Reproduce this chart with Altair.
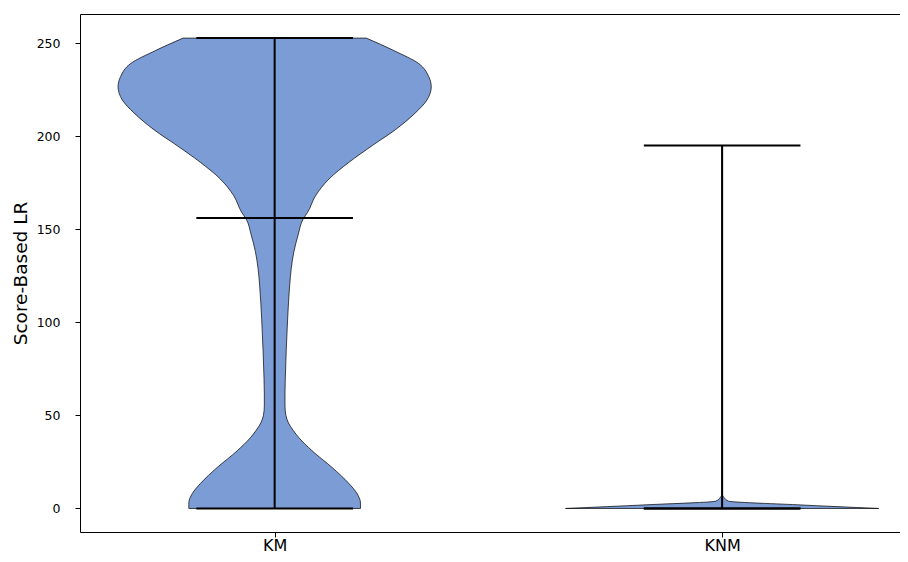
import altair as alt
import pandas as pd

# ---------------- data ----------------
groups = ["KM", "KNM"]
positions = [1, 2]

# KM violin profile: score value and relative density (1 = widest point)
km_values = [0, 3, 8, 13.5, 22, 31, 38, 42, 46, 50, 55, 62, 70, 85, 102, 120, 129,
             138, 147, 155.5, 159, 168, 177, 186, 195, 203.5, 212.5, 219.5, 226.5,
             232, 239, 246, 252.7]
km_density = [0.548, 0.548, 0.526, 0.473, 0.367, 0.239, 0.155, 0.118, 0.088, 0.072,
              0.066, 0.066, 0.068, 0.074, 0.083, 0.096, 0.106, 0.123, 0.150, 0.182,
              0.21, 0.261, 0.347, 0.475, 0.624, 0.771, 0.898, 0.973, 1.0, 0.984,
              0.92, 0.761, 0.585]

# KNM violin profile
knm_values = [0, 1.97, 3.94, 5.91, 7.88, 195]
knm_density = [1.0, 0.48, 0.04, 0.012, 0.0, 0.0]

mins = [0.0, 0.0]
maxs = [252.7, 195.0]
medians = [156.0, 0.0]

# ---------------- styling constants ----------------
HALF_WIDTH = 0.35   # half of violin width (x units)
CAP = 0.175         # half length of the extrema / median lines
FONT = "DejaVu Sans"

rows = []
for g, p, vals, dens in [("KM", 1, km_values, km_density), ("KNM", 2, knm_values, knm_density)]:
    for v, d in zip(vals, dens):
        rows.append({"group": g, "pos": p, "value": v, "dens": d})
violin_df = pd.DataFrame(rows)

stats_df = pd.DataFrame({"group": groups, "pos": positions,
                         "min": mins, "max": maxs, "median": medians})

xscale = alt.Scale(domain=[0.565, 2.3975], nice=False, zero=False)
yscale = alt.Scale(domain=[-12.65, 265.65], nice=False, zero=False)

x_axis = alt.Axis(values=positions, labelExpr="datum.value == 1 ? 'KM' : 'KNM'",
                  title=None, grid=False, labelFontSize=16, labelPadding=0,
                  tickSize=5, orient="bottom")
y_axis = alt.Axis(values=[0, 50, 100, 150, 200, 250], title="Score-Based LR",
                  grid=False, labelFontSize=12.5, labelPadding=15, tickSize=5,
                  titleFontSize=18.5, titleFontWeight="normal", titlePadding=5.5)
top_axis = alt.Axis(orient="top", labels=False, ticks=False, title=None, grid=False,
                    domain=True)

violin = alt.Chart(violin_df).transform_calculate(
    xl=f"datum.pos - datum.dens * {HALF_WIDTH}",
    xr=f"datum.pos + datum.dens * {HALF_WIDTH}",
).mark_area(
    orient="horizontal", interpolate="monotone", fill="#4472C4", fillOpacity=0.7,
    stroke="black", strokeOpacity=0.7, strokeWidth=1,
).encode(
    y=alt.Y("value:Q", scale=yscale, axis=y_axis),
    x=alt.X("xl:Q", scale=xscale, axis=x_axis),
    x2="xr:Q",
    detail="group:N",
)

vline = alt.Chart(stats_df).mark_rule(color="black", strokeWidth=2).encode(
    x=alt.X("pos:Q", scale=xscale, axis=None),
    y=alt.Y("min:Q", scale=yscale),
    y2="max:Q",
)

hlines = alt.Chart(stats_df).transform_fold(
    ["min", "max", "median"], as_=["stat", "v"]
).transform_calculate(
    xl=f"datum.pos - {CAP}", xr=f"datum.pos + {CAP}"
).mark_rule(color="black", strokeWidth=2).encode(
    y=alt.Y("v:Q", scale=yscale),
    x=alt.X("xl:Q", scale=xscale, axis=top_axis),
    x2="xr:Q",
)

chart = alt.layer(violin, vline, hlines).resolve_axis(x="independent").properties(
    width=820, height=518,
    autosize=alt.AutoSizeParams(type="none"),
    padding={"left": 72, "top": 6, "right": 0, "bottom": 22},
).configure_view(stroke=None).configure_axis(
    domainColor="black", domainWidth=1, tickColor="black", tickWidth=1,
    labelColor="black", titleColor="black", labelFont=FONT, titleFont=FONT,
)

chart.save("out.html", embed_options={"renderer": "svg", "actions": False})
